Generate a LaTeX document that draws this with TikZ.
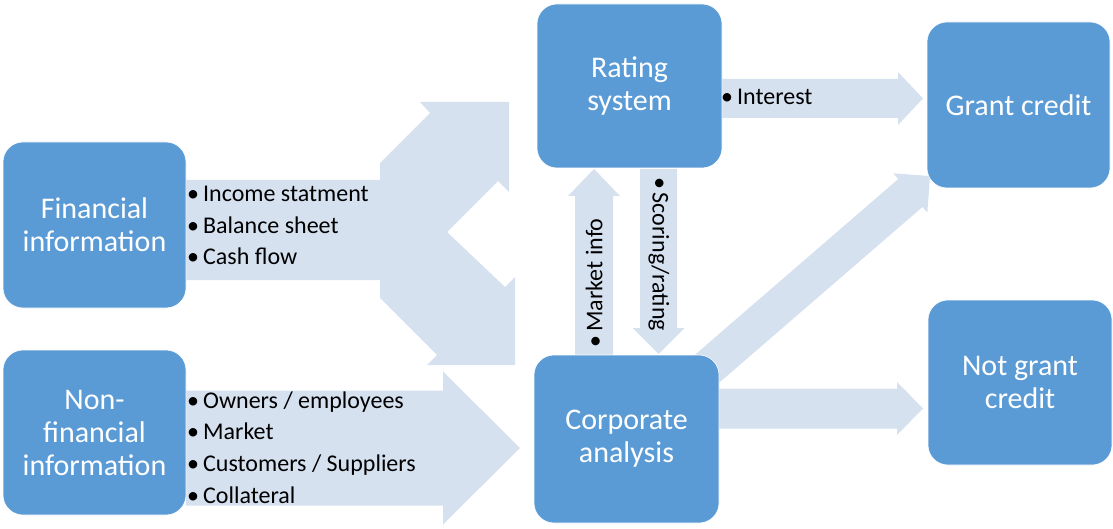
\documentclass[tikz,border=0pt]{standalone}
\usepackage{fontspec}
\setmainfont{Carlito}
\usetikzlibrary{calc}
\definecolor{boxblue}{RGB}{91,155,213}
\definecolor{arrowfill}{RGB}{214,225,240}
% #1 start, #2 tip, #3 shaft half width, #4 head half width, #5 head length
\newcommand{\blockarrow}[5]{%
  \coordinate (h) at ($(#2)!#5!(#1)$);
  \fill[arrowfill] ($(#1)!#3!90:(#2)$) -- ($(h)!#3!90:(#2)$) -- ($(h)!#4!90:(#2)$)
    -- (#2) -- ($(h)!#4!-90:(#2)$) -- ($(h)!#3!-90:(#2)$) -- ($(#1)!#3!-90:(#2)$) -- cycle;}
\tikzset{
  box/.style={fill=boxblue, draw=white, line width=0.6pt, rounded corners=20pt,
    text=white, align=center, font=\fontsize{30}{33}\selectfont, inner sep=0pt},
  lbl/.style={align=left, anchor=west, inner sep=1pt, text=black,
    font=\fontsize{24}{31.6}\selectfont},
}
\begin{document}
\begin{tikzpicture}[x=1pt, y=-1pt]
\useasboundingbox (0,0) rectangle (1113,529);
% arrow end points
\coordinate (nfA) at (186,448);   \coordinate (nfB) at (520,448);
\coordinate (inA) at (722,98.5);  \coordinate (inB) at (923,98.5);
\coordinate (ngA) at (718,408.5); \coordinate (ngB) at (923,408.5);
\coordinate (dgA) at (697.5,377); \coordinate (dgB) at (930,176);
\coordinate (miA) at (594,355);   \coordinate (miB) at (594,169);
\coordinate (scA) at (658.5,169); \coordinate (scB) at (658.5,354);
% financial split arrow
\fill[arrowfill] (186,180) -- (380,180) -- (380,163) -- (430,113) -- (420,102)
  -- (509,102) -- (509,192) -- (498,181) -- (447,232) -- (505,287) -- (515,277)
  -- (515,365) -- (427,365) -- (437,355) -- (380,298) -- (380,280) -- (186,280) -- cycle;
\blockarrow{nfA}{nfB}{57.5pt}{76.5pt}{77pt}
\blockarrow{inA}{inB}{19.5pt}{26.5pt}{25pt}
\blockarrow{ngA}{ngB}{20pt}{26.5pt}{26pt}
\blockarrow{dgA}{dgB}{18.5pt}{26pt}{26pt}
\blockarrow{miA}{miB}{19pt}{26pt}{27pt}
\blockarrow{scA}{scB}{18.5pt}{26pt}{26pt}
% boxes
\node[box, minimum width=183pt, minimum height=166pt] (fin) at (94.5,225) {Financial\\information};
\node[box, minimum width=183pt, minimum height=165pt] (nonfin) at (94.5,432.5) {Non-\\financial\\information};
\node[box, minimum width=185pt, minimum height=164pt] (rating) at (629.5,86) {Rating\\system};
\node[box, minimum width=185pt, minimum height=168pt] (corp) at (626.5,439) {Corporate\\analysis};
\node[box, minimum width=183pt, minimum height=166pt] (grant) at (1018.5,105) {Grant credit};
\node[box, minimum width=184pt, minimum height=165pt] (notgrant) at (1020,382.5) {Not grant\\credit};
% labels
\node[lbl] (finlbl) at (186,225.5) {\textbullet\,Income statment\\\textbullet\,Balance sheet\\\textbullet\,Cash flow};
\node[lbl] (nflbl) at (186,447.5) {\textbullet\,Owners / employees\\\textbullet\,Market\\\textbullet\,Customers / Suppliers\\\textbullet\,Collateral};
\node[lbl] (inlbl) at (720,97) {\textbullet\,Interest};
\node[lbl, anchor=center, rotate=90] (milbl) at (594,283) {\textbullet\,Market info};
\node[lbl, anchor=center, rotate=-90] (sclbl) at (659,254) {\textbullet\,Scoring/rating};
\end{tikzpicture}
\end{document}
